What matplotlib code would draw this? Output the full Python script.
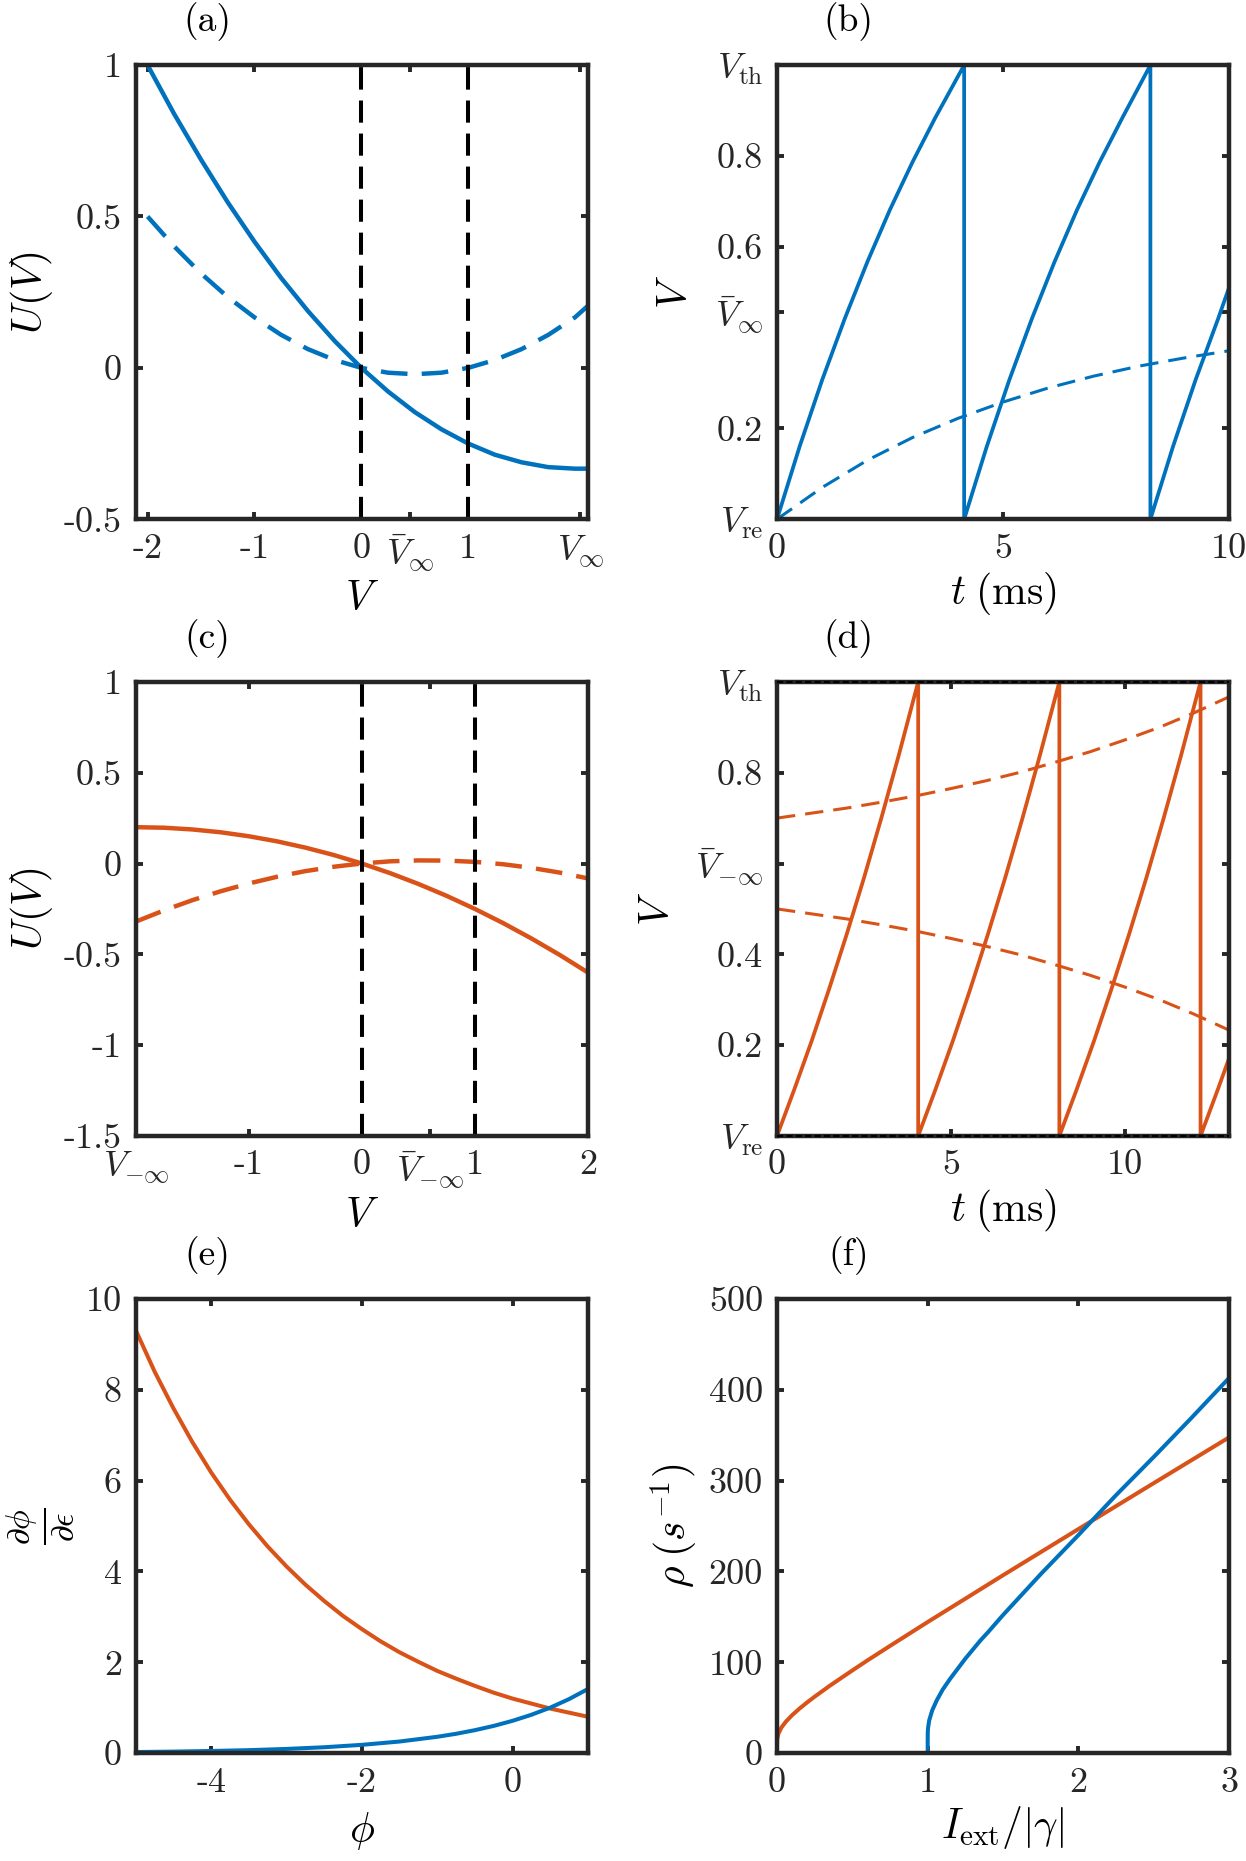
import matplotlib.pyplot as plt

plt.rcParams['font.family'] = 'cmr10'
plt.rcParams['mathtext.fontset'] = 'cm'
plt.rcParams['axes.unicode_minus'] = False
plt.rcParams['font.size'] = 26
plt.rcParams['axes.labelsize'] = 30
plt.rcParams['axes.formatter.use_mathtext'] = True

BLUE = '#0072BD'
ORANGE = '#D95319'
AXC = '#262626'

# === DATA ===
# (a) potential, blue
va = [-2, -1.75, -1.5, -1.25, -1, -0.75, -0.5, -0.25, 0, 0.25, 0.5, 0.75,
      1, 1.25, 1.5, 1.75, 2, 2.12]
ua_solid = [1.0, 0.838, 0.688, 0.547, 0.417, 0.297, 0.188, 0.089, 0.0,
            -0.078, -0.146, -0.203, -0.25, -0.287, -0.312, -0.328, -0.333, -0.333]
ua_dash = [0.5, 0.401, 0.312, 0.234, 0.167, 0.109, 0.062, 0.026, 0.0,
           -0.016, -0.021, -0.016, 0.0, 0.026, 0.062, 0.109, 0.167, 0.205]

# (b) voltage traces, blue
tb = [0, 0.5, 1, 1.5, 2, 2.5, 3, 3.5, 4.14,
      4.14, 4.64, 5.14, 5.64, 6.14, 6.64, 7.14, 7.64, 8.26,
      8.26, 8.76, 9.26, 9.76, 10]
vb = [0, 0.16, 0.307, 0.442, 0.567, 0.682, 0.787, 0.884, 1.0,
      0, 0.16, 0.307, 0.442, 0.567, 0.682, 0.787, 0.884, 1.0,
      0, 0.16, 0.307, 0.442, 0.51]
tb_dash = [0, 1, 2, 3, 4, 5, 6, 7, 8, 9, 10]
vb_dash = [0, 0.070, 0.130, 0.180, 0.222, 0.258, 0.289, 0.315, 0.337, 0.355, 0.371]

# (c) potential, orange
vc = [-2, -1.75, -1.5, -1.25, -1, -0.75, -0.5, -0.25, 0, 0.25, 0.5, 0.75,
      1, 1.25, 1.5, 1.75, 2]
uc_solid = [0.2, 0.197, 0.1875, 0.172, 0.15, 0.122, 0.0875, 0.047, 0.0,
            -0.053, -0.1125, -0.178, -0.25, -0.328, -0.4125, -0.503, -0.6]
uc_dash = [-0.32, -0.258, -0.202, -0.153, -0.110, -0.073, -0.042, -0.018, 0.0,
           0.012, 0.017, 0.016, 0.009, -0.004, -0.024, -0.050, -0.082]

# (d) voltage traces, orange
td = [0, 0.5, 1, 1.5, 2, 2.5, 3, 3.5, 4.06,
      4.06, 4.56, 5.06, 5.56, 6.06, 6.56, 7.06, 7.56, 8.12,
      8.12, 8.62, 9.12, 9.62, 10.12, 10.62, 11.12, 11.62, 12.18,
      12.18, 12.68, 13]
vd = [0, 0.103, 0.210, 0.324, 0.443, 0.568, 0.700, 0.838, 1.0,
      0, 0.103, 0.210, 0.324, 0.443, 0.568, 0.700, 0.838, 1.0,
      0, 0.103, 0.210, 0.324, 0.443, 0.568, 0.700, 0.838, 1.0,
      0, 0.103, 0.171]
td_dash = [0, 1, 2, 3, 4, 5, 6, 7, 8, 9, 10, 11, 12, 13]
vd_upper = [0.7, 0.711, 0.722, 0.735, 0.749, 0.765, 0.782, 0.801, 0.823,
            0.846, 0.872, 0.900, 0.932, 0.967]
vd_lower = [0.5, 0.489, 0.478, 0.465, 0.451, 0.435, 0.418, 0.399, 0.377,
            0.354, 0.328, 0.300, 0.268, 0.233]

# (e) phase sensitivity
phi_o = [-5, -4.75, -4.5, -4.25, -4, -3.75, -3.5, -3.25, -3, -2.75, -2.5,
         -2.25, -2, -1.75, -1.5, -1.25, -1, -0.75, -0.5, -0.25, 0, 0.25,
         0.5, 0.75, 1]
dphi_o = [9.31, 8.40, 7.59, 6.85, 6.18, 5.58, 5.04, 4.55, 4.11, 3.71, 3.35,
          3.02, 2.73, 2.46, 2.22, 2.01, 1.81, 1.64, 1.48, 1.33, 1.20, 1.09,
          0.98, 0.89, 0.80]
phi_b = [-5, -4.5, -4, -3.5, -3, -2.5, -2, -1.5, -1, -0.75, -0.5, -0.25,
         0, 0.25, 0.5, 0.75, 1]
dphi_b = [0.023, 0.032, 0.046, 0.064, 0.091, 0.128, 0.181, 0.254, 0.358,
          0.424, 0.504, 0.598, 0.71, 0.843, 1.0, 1.188, 1.41]

# (f) firing rate
I_b = [1.0, 1.0, 1.0005, 1.002, 1.01, 1.03, 1.06, 1.1, 1.15, 1.2, 1.25,
       1.35, 1.4, 1.5, 1.75, 2, 2.25, 2.5, 2.75, 3]
rho_b = [0, 12, 22, 27, 36, 47, 58, 70, 82, 93, 104, 124, 133, 152, 197,
         240, 284, 326, 369, 413]
I_o = [0, 0, 0.0005, 0.002, 0.01, 0.03, 0.06, 0.1, 0.15, 0.2, 0.25, 0.35,
       0.5, 0.6, 0.75, 1, 1.25, 1.5, 2, 2.5, 3]
rho_o = [0, 8, 13.2, 16.1, 21.7, 28.3, 34.8, 41.7, 49.1, 55.8, 62.1, 74.1,
         91.0, 102.0, 118.0, 144.3, 170.0, 195.8, 246.6, 297.2, 347.6]

# ticks
xt_a = [-2, -1, 0, 0.46, 1, 2.05]
xl_a = ['-2', '-1', '0', r'$\bar{V}_\infty$', '1', r'$V_\infty$']
yt_a = [-0.5, 0, 0.5, 1]
yl_a = ['-0.5', '0', '0.5', '1']
xt_b = [0, 5, 10]
xl_b = ['0', '5', '10']
yt_b = [0, 0.2, 0.457, 0.6, 0.8, 1]
yl_b = [r'$V_{\rm re}$', '0.2', r'$\bar{V}_\infty$', '0.6', '0.8', r'$V_{\rm th}$']
xt_c = [-2, -1, 0, 0.6, 1, 2]
xl_c = [r'$V_{-\infty}$', '-1', '0', r'$\bar{V}_{-\infty}$', '1', '2']
yt_c = [-1.5, -1, -0.5, 0, 0.5, 1]
yl_c = ['-1.5', '-1', '-0.5', '0', '0.5', '1']
xt_d = [0, 5, 10]
xl_d = ['0', '5', '10']
yt_d = [0, 0.2, 0.4, 0.6, 0.8, 1]
yl_d = [r'$V_{\rm re}$', '0.2', '0.4', r'$\bar{V}_{-\infty}$', '0.8', r'$V_{\rm th}$']
xt_e = [-4, -2, 0]
xl_e = ['-4', '-2', '0']
yt_e = [0, 2, 4, 6, 8, 10]
yl_e = ['0', '2', '4', '6', '8', '10']
xt_f = [0, 1, 2, 3]
xl_f = ['0', '1', '2', '3']
yt_f = [0, 100, 200, 300, 400, 500]
yl_f = ['0', '100', '200', '300', '400', '500']


def style(ax, xlim, ylim, xt, xl, yt, yl, letter):
    ax.set_xlim(xlim)
    ax.set_ylim(ylim)
    ax.set_xticks(xt)
    ax.set_xticklabels(xl)
    ax.set_yticks(yt)
    ax.set_yticklabels(yl)
    ax.tick_params(direction='in', top=True, right=True, length=5, width=2.8,
                   color=AXC, labelcolor=AXC, pad=10)
    for s in ax.spines.values():
        s.set_linewidth(3.2)
        s.set_color(AXC)
    ax.text(0.158, 1.095, letter, transform=ax.transAxes, ha='center',
            va='center', color='black', fontsize=27)


fig = plt.figure(figsize=(12.46, 18.61), dpi=100)
L1, L2, W, H = 0.109, 0.6236, 0.3628, 0.2440
B1, B2, B3 = 0.7210, 0.3896, 0.0580

# (a)
ax = fig.add_axes([L1, B1, W, H])
ax.plot(va, ua_solid, color=BLUE, lw=3.2)
ax.plot(va, ua_dash, color=BLUE, lw=3.2, ls=(0, (6, 3.2)))
for x0 in [0, 1]:
    ax.axvline(x0, color='black', lw=2.9, ls=(0, (5.5, 2.7)))
style(ax, (-2.11, 2.12), (-0.5, 1), xt_a, xl_a, yt_a, yl_a, '(a)')
ax.set_xlabel(r'$V$', labelpad=4)
ax.set_ylabel(r'$U(V)$', labelpad=6)

# (b)
ax = fig.add_axes([L2, B1, W, H])
ax.plot(tb, vb, color=BLUE, lw=2.7)
ax.plot(tb_dash, vb_dash, color=BLUE, lw=2.2, ls=(0, (6, 3.3)))
style(ax, (0, 10), (0, 1), xt_b, xl_b, yt_b, yl_b, '(b)')
ax.set_xlabel(r'$t\;(\mathrm{ms})$', labelpad=4)
ax.set_ylabel(r'$V$', labelpad=14)

# (c)
ax = fig.add_axes([L1, B2, W, H])
ax.plot(vc, uc_solid, color=ORANGE, lw=3.2)
ax.plot(vc, uc_dash, color=ORANGE, lw=3.2, ls=(0, (6, 3.2)))
for x0 in [0, 1]:
    ax.axvline(x0, color='black', lw=2.9, ls=(0, (5.5, 2.7)))
style(ax, (-2, 2), (-1.5, 1), xt_c, xl_c, yt_c, yl_c, '(c)')
ax.set_xlabel(r'$V$', labelpad=4)
ax.set_ylabel(r'$U(V)$', labelpad=6)

# (d)
ax = fig.add_axes([L2, B2, W, H])
ax.plot(td, vd, color=ORANGE, lw=2.7)
ax.plot(td_dash, vd_upper, color=ORANGE, lw=2.2, ls=(0, (6, 3.3)))
ax.plot(td_dash, vd_lower, color=ORANGE, lw=2.2, ls=(0, (6, 3.3)))
style(ax, (0, 13), (0, 1), xt_d, xl_d, yt_d, yl_d, '(d)')
for y0 in [0, 1]:
    ax.axhline(y0, color='black', lw=1.5, ls=(0, (3, 1.5)), clip_on=False,
               zorder=3)
ax.set_xlabel(r'$t\;(\mathrm{ms})$', labelpad=4)
ax.set_ylabel(r'$V$', labelpad=13)

# (e)
ax = fig.add_axes([L1, B3, W, H])
ax.plot(phi_o, dphi_o, color=ORANGE, lw=2.9)
ax.plot(phi_b, dphi_b, color=BLUE, lw=2.9)
style(ax, (-5, 1), (0, 10), xt_e, xl_e, yt_e, yl_e, '(e)')
ax.set_xlabel(r'$\phi$', labelpad=8)
ax.set_ylabel(r'$\frac{\partial\phi}{\partial\epsilon}$', labelpad=6,
              fontsize=34)

# (f)
ax = fig.add_axes([L2, B3, W, H])
ax.plot(I_o, rho_o, color=ORANGE, lw=2.9)
ax.plot(I_b, rho_b, color=BLUE, lw=2.9)
style(ax, (0, 3), (0, 500), xt_f, xl_f, yt_f, yl_f, '(f)')
ax.set_xlabel(r'$I_{\rm ext}/|\gamma|$', labelpad=4)
ax.set_ylabel(r'$\rho\;(s^{-1})$', labelpad=6)

fig.savefig('out.png', dpi=100)
